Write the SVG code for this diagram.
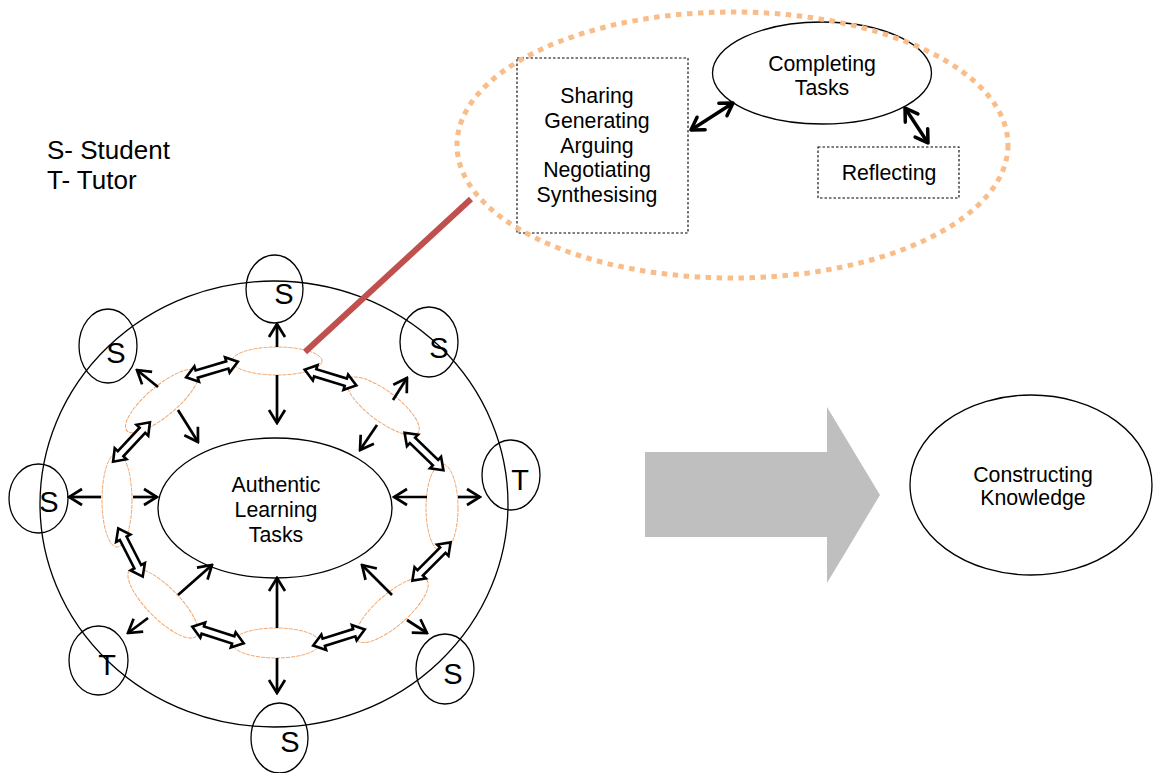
<svg xmlns="http://www.w3.org/2000/svg" xmlns:xlink="http://www.w3.org/1999/xlink" width="1158" height="773" viewBox="0 0 1158 773">
<style>
text{font-family:"Liberation Sans",Arial,sans-serif;fill:#000;text-anchor:middle}
.t21{font-size:21.3px}
.big{font-size:29px}
.leg{font-size:26px;text-anchor:start}
.none{fill:none;stroke:#000;stroke-width:1.3}
.small{fill:none;stroke:#F2A56B;stroke-width:1;stroke-dasharray:4 1}
.box{fill:none;stroke:#000;stroke-width:1.1;stroke-dasharray:2.5 2}
.ar{fill:none;stroke:#000;stroke-width:2.7;marker-end:url(#ah)}
.ar2{fill:none;stroke:#000;stroke-width:3.5;marker-start:url(#ah2);marker-end:url(#ah2)}
.dbl{fill:#fff;stroke:#000;stroke-width:2.6;stroke-linejoin:miter}
</style>
<defs>
<marker id="ah" markerUnits="userSpaceOnUse" markerWidth="18" markerHeight="20" viewBox="0 0 18 20" refX="16" refY="10" orient="auto"><path d="M3,2 L16,10 L3,18" fill="none" stroke="#000" stroke-width="2.7"/></marker>
<marker id="ah2" markerUnits="userSpaceOnUse" markerWidth="18" markerHeight="20" viewBox="0 0 18 20" refX="15" refY="10" orient="auto-start-reverse"><path d="M3,2.5 L15,10 L3,17.5" fill="none" stroke="#000" stroke-width="3.5" stroke-linecap="round" stroke-linejoin="round"/></marker>
<path id="dbl" d="M-27,0 L-16,-8 L-16,-3.8 L16,-3.8 L16,-8 L27,0 L16,8 L16,3.8 L-16,3.8 L-16,8 Z"/>
</defs>

<g id="legend">
<text class="leg" x="47" y="159">S- Student</text>
<text class="leg" x="47" y="189">T- Tutor</text>
</g>

<g id="sharing-box">
<rect class="box" x="517" y="58" width="171" height="175"/>
<text class="t21" x="597" y="103">Sharing</text>
<text class="t21" x="597" y="128">Generating</text>
<text class="t21" x="597" y="153">Arguing</text>
<text class="t21" x="597" y="177">Negotiating</text>
<text class="t21" x="597" y="202">Synthesising</text>
</g>

<g id="completing-tasks">
<ellipse class="none" cx="822" cy="73" rx="109.5" ry="51"/>
<text class="t21" x="822" y="71">Completing</text>
<text class="t21" x="822" y="95">Tasks</text>
</g>

<g id="reflecting">
<rect class="box" x="818" y="147" width="141" height="51"/>
<text class="t21" x="889" y="180">Reflecting</text>
</g>

<g id="reflection-area">
<ellipse cx="732.5" cy="145" rx="275.5" ry="133" fill="none" stroke="#F9BD8A" stroke-width="5" stroke-dasharray="5.5 5.5"/>
</g>

<g id="outer-circle"><ellipse class="none" cx="274" cy="504" rx="234" ry="223"/></g>

<g id="authentic-tasks">
<ellipse class="none" cx="275" cy="508" rx="117" ry="70"/>
<text class="t21" x="276" y="492">Authentic</text>
<text class="t21" x="276" y="517">Learning</text>
<text class="t21" x="276" y="542">Tasks</text>
</g>

<g id="interaction-ring">
<ellipse class="small" cx="277" cy="361" rx="45" ry="14"/>
<ellipse class="small" cx="162" cy="401" rx="46" ry="15" transform="rotate(-40 162 401)"/>
<ellipse class="small" cx="117" cy="500" rx="15" ry="47"/>
<ellipse class="small" cx="163" cy="603" rx="47" ry="16" transform="rotate(45 163 603)"/>
<ellipse class="small" cx="276" cy="643" rx="44" ry="15"/>
<ellipse class="small" cx="392" cy="610" rx="46" ry="16" transform="rotate(-41 392 610)"/>
<ellipse class="small" cx="442" cy="508" rx="16" ry="44"/>
<ellipse class="small" cx="383" cy="406" rx="44" ry="15" transform="rotate(37 383 406)"/>
</g>

<g id="participant-S-top"><ellipse class="none" cx="274.5" cy="289" rx="28.5" ry="34"/><text class="big" x="284" y="304">S</text></g>
<g id="participant-S-upper-left"><ellipse class="none" cx="108" cy="346" rx="29" ry="37"/><text class="big" x="116" y="363">S</text></g>
<g id="participant-S-upper-right"><ellipse class="none" cx="429" cy="342" rx="29" ry="35"/><text class="big" x="439" y="358">S</text></g>
<g id="participant-T-right"><ellipse class="none" cx="511" cy="475" rx="29" ry="35"/><text class="big" x="520" y="490">T</text></g>
<g id="participant-S-left"><ellipse class="none" cx="38.5" cy="498.5" rx="29.5" ry="34.5"/><text class="big" x="49" y="512">S</text></g>
<g id="participant-T-lower-left"><ellipse class="none" cx="98.5" cy="660.5" rx="29.5" ry="34.5"/><text class="big" x="107" y="675">T</text></g>
<g id="participant-S-lower-right"><ellipse class="none" cx="445" cy="669" rx="29" ry="35"/><text class="big" x="453" y="684">S</text></g>
<g id="participant-S-bottom"><ellipse class="none" cx="279.5" cy="738" rx="28.5" ry="35"/><text class="big" x="290" y="752">S</text></g>

<g id="big-arrow">
<path d="M645,452 L827,452 L827,407 L880,495 L827,583 L827,537 L645,537 Z" fill="#BFBFBF"/>
</g>

<g id="constructing-knowledge">
<ellipse class="none" cx="1031" cy="485" rx="121" ry="90"/>
<text class="t21" x="1033" y="482">Constructing</text>
<text class="t21" x="1033" y="505">Knowledge</text>
</g>

<g id="connectors">
<line x1="305" y1="352" x2="471" y2="199" stroke="#C0504D" stroke-width="6"/>
<line class="ar2" x1="691" y1="130" x2="733" y2="103"/>
<line class="ar2" x1="905" y1="108" x2="928" y2="143"/>

<line class="ar" x1="277" y1="347" x2="277" y2="324"/>
<line class="ar" x1="277" y1="375" x2="277" y2="423"/>
<line class="ar" x1="277" y1="628" x2="277" y2="578"/>
<line class="ar" x1="277" y1="658" x2="277" y2="693"/>
<line class="ar" x1="101" y1="497" x2="69" y2="497"/>
<line class="ar" x1="133" y1="497" x2="157" y2="497"/>
<line class="ar" x1="427" y1="497" x2="394" y2="497"/>
<line class="ar" x1="458" y1="497" x2="480" y2="497"/>
<line class="ar" x1="158" y1="387" x2="137" y2="370"/>
<line class="ar" x1="178" y1="410" x2="198" y2="442"/>
<line class="ar" x1="393" y1="400" x2="407" y2="378"/>
<line class="ar" x1="377" y1="425" x2="360" y2="450"/>
<line class="ar" x1="178" y1="595" x2="212" y2="565"/>
<line class="ar" x1="148" y1="618" x2="128" y2="633"/>
<line class="ar" x1="392" y1="595" x2="362" y2="565"/>
<line class="ar" x1="407" y1="620" x2="427" y2="633"/>

<use xlink:href="#dbl" class="dbl" transform="translate(212 369.5) rotate(-16.7)"/>
<use xlink:href="#dbl" class="dbl" transform="translate(330.5 377.5) rotate(17)"/>
<use xlink:href="#dbl" class="dbl" transform="translate(131.5 442) rotate(-47)"/>
<use xlink:href="#dbl" class="dbl" transform="translate(424 451.5) rotate(44)"/>
<use xlink:href="#dbl" class="dbl" transform="translate(130.5 552.5) rotate(63)"/>
<use xlink:href="#dbl" class="dbl" transform="translate(431.5 561.5) rotate(-45)"/>
<use xlink:href="#dbl" class="dbl" transform="translate(218 635) rotate(17.7)"/>
<use xlink:href="#dbl" class="dbl" transform="translate(339 637.5) rotate(-17.4)"/>
</g>
</svg>
